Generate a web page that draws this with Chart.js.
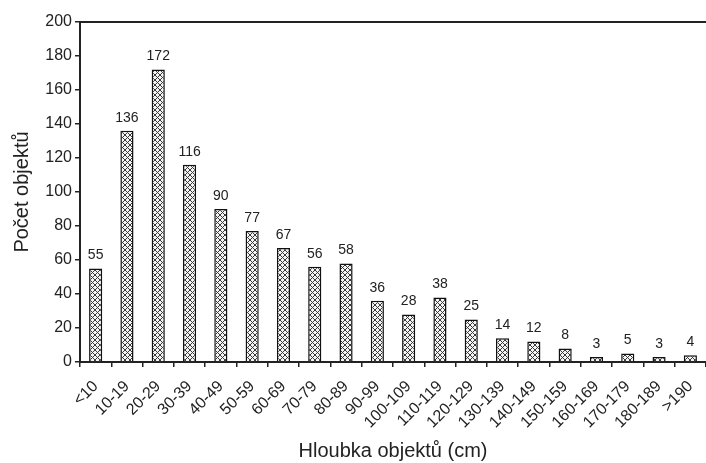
<!DOCTYPE html>
<html>
<head>
<meta charset="utf-8">
<script src="https://cdn.jsdelivr.net/npm/chart.js@4"></script>
<style>
  html, body { margin: 0; padding: 0; background: #fff; }
  #wrap { width: 706px; height: 463px; }
</style>
</head>
<body>
<div id="wrap"><canvas id="myChart"></canvas></div>
<script>
// data
const depthClasses = ['<10', '10-19', '20-29', '30-39', '40-49', '50-59', '60-69', '70-79', '80-89', '90-99',
  '100-109', '110-119', '120-129', '130-139', '140-149', '150-159', '160-169', '170-179', '180-189', '>190']
const objectCounts = [55, 136, 172, 116, 90, 77, 67, 56, 58, 36, 28, 38, 25, 14, 12, 8, 3, 5, 3, 4]
const yMax = 200
const yStep = 20

const FONT = '"Liberation Sans", Arial, sans-serif'

// crosshatch fill for the bars
function hatchPattern() {
  const c = document.createElement('canvas')
  c.width = 5; c.height = 5
  const g = c.getContext('2d')
  g.fillStyle = '#f4f4f4'
  g.fillRect(0, 0, 5, 5)
  g.strokeStyle = '#3a3a3a'
  g.lineWidth = 1
  g.beginPath()
  g.moveTo(0, 0); g.lineTo(5, 5)
  g.moveTo(5, 0); g.lineTo(0, 5)
  g.stroke()
  return g.createPattern(c, 'repeat')
}

// value above each bar
const valueLabels = {
  id: 'valueLabels',
  afterDatasetsDraw(chart) {
    const ctx = chart.ctx
    const meta = chart.getDatasetMeta(0)
    ctx.save()
    ctx.font = '14px ' + FONT
    ctx.fillStyle = '#222'
    ctx.textAlign = 'center'
    ctx.textBaseline = 'bottom'
    meta.data.forEach((bar, i) => {
      ctx.fillText(chart.data.datasets[0].data[i], bar.x, bar.y - 6)
    })
    ctx.restore()
  }
}

const ctx = document.getElementById('myChart')
new Chart(ctx, {
  type: 'bar',
  data: {
    labels: depthClasses,
    datasets: [{
      label: 'Počet objektů',
      data: objectCounts,
      backgroundColor: hatchPattern(),
      borderColor: '#111',
      borderWidth: 1.5,
      borderSkipped: 'bottom',
      categoryPercentage: 1,
      barPercentage: 0.42
    }]
  },
  options: {
    responsive: true,
    maintainAspectRatio: false,
    animation: false,
    layout: { padding: { top: 22, right: -4, left: 0, bottom: 0 } },
    plugins: {
      legend: { display: false },
      tooltip: { enabled: false }
    },
    scales: {
      x: {
        offset: true,
        grid: { display: true, drawOnChartArea: false, offset: true, tickLength: 5, color: '#222', lineWidth: 1.5 },
        border: { display: true, color: '#222', width: 2 },
        ticks: {
          color: '#222',
          font: { family: FONT, size: 16 },
          minRotation: 45,
          maxRotation: 45,
          autoSkip: false,
          padding: 10
        },
        title: {
          display: true,
          text: 'Hloubka objektů (cm)',
          color: '#222',
          font: { family: FONT, size: 20 },
          padding: { top: 4, bottom: 0 }
        },
        afterFit(scale) {
          scale.height = 101
          scale.paddingRight = 0
          scale.paddingLeft = 0
        }
      },
      xTop: {
        type: 'category',
        position: 'top',
        labels: depthClasses,
        grid: { display: false },
        border: { display: true, color: '#222', width: 2 },
        ticks: { display: false },
        afterFit(scale) {
          scale.height = 0
          scale.paddingRight = 0
          scale.paddingLeft = 0
        }
      },
      y: {
        min: 0,
        max: yMax,
        ticks: {
          stepSize: yStep,
          color: '#222',
          font: { family: FONT, size: 16 },
          padding: 3
        },
        grid: { display: true, drawOnChartArea: false, tickLength: 5, color: '#222', lineWidth: 1.5 },
        border: { display: true, color: '#222', width: 2 },
        title: {
          display: true,
          text: 'Počet objektů',
          color: '#222',
          font: { family: FONT, size: 20 },
          padding: { top: 10, bottom: 4 }
        },
        afterFit(scale) { scale.width = 80 }
      }
    }
  },
  plugins: [valueLabels]
})
</script>
</body>
</html>
